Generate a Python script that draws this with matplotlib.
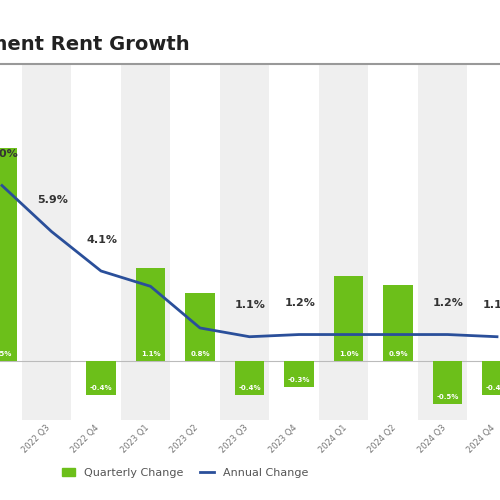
import matplotlib.pyplot as plt
from matplotlib.lines import Line2D
from matplotlib.patches import Patch

quarters = ["2022 Q2", "2022 Q3", "2022 Q4", "2023 Q1", "2023 Q2", "2023 Q3",
            "2023 Q4", "2024 Q1", "2024 Q2", "2024 Q3", "2024 Q4"]
quarterly = [2.5, 0.0, -0.4, 1.1, 0.8, -0.4, -0.3, 1.0, 0.9, -0.5, -0.4]
annual = [8.0, 5.9, 4.1, 3.4, 1.5, 1.1, 1.2, 1.2, 1.2, 1.2, 1.1]
annual_labeled = [True, True, True, False, False, True, True, False, False, True, True]

green = "#6cbf1a"
blue = "#2a4f9a"

fig = plt.figure(figsize=(5, 5), dpi=100)
ax = fig.add_axes([0.0, 0.16, 1.0, 0.71])
ax2 = ax.twinx()

x = list(range(len(quarters)))
for i in x:
    if i % 2 == 1:
        ax.axvspan(i - 0.6, i + 0.4, color="#efefef", zorder=0, lw=0)

ax.bar(x, quarterly, width=0.6, color=green, zorder=2)
for i, v in zip(x, quarterly):
    if v == 0:
        continue
    y = 0.05 if v > 0 else v + 0.05
    ax.text(i, y, f"{v:.1f}%", ha="center", va="bottom", color="white",
            fontsize=5, fontweight="bold", zorder=3)
ax.axhline(0, color="#bbbbbb", lw=0.8, zorder=1)

ax2.plot(x, annual, color=blue, lw=2, zorder=4)
for i, v, show in zip(x, annual, annual_labeled):
    if show:
        ax2.text(i + 0.02, v + 1.2, f"{v:.1f}%", ha="center", va="bottom",
                 fontsize=8, fontweight="bold", color="#333333")

step = 49.5 / 500
x0 = 2 / 500
ax.set_xlim(-x0 / step, (1 - x0) / step)
ax.set_ylim(-0.69, 3.48)
ax2.set_ylim(-2.7, 13.5)

ax.set_xticks(x)
ax.set_xticklabels(quarters, rotation=45, ha="right", fontsize=6, color="#777777")
ax.tick_params(axis="x", length=0, pad=2)
ax.set_yticks([])
ax2.set_yticks([])
for a in (ax, ax2):
    for s in a.spines.values():
        s.set_visible(False)

fig.text(0.38, 0.912, "Apartment Rent Growth", ha="right", va="center",
         fontsize=14, fontweight="bold", color="#222222")
fig.add_artist(Line2D([0, 1], [0.873, 0.873], color="#999999", lw=1.5))

handles = [Patch(color=green, label="Quarterly Change"),
           Line2D([0], [0], color=blue, lw=2, label="Annual Change")]
fig.legend(handles=handles, loc="center", bbox_to_anchor=(0.37, 0.055), ncol=2,
           frameon=False, fontsize=8, handlelength=1.2, columnspacing=1.5,
           labelcolor="#555555")

fig.savefig("out.png")
